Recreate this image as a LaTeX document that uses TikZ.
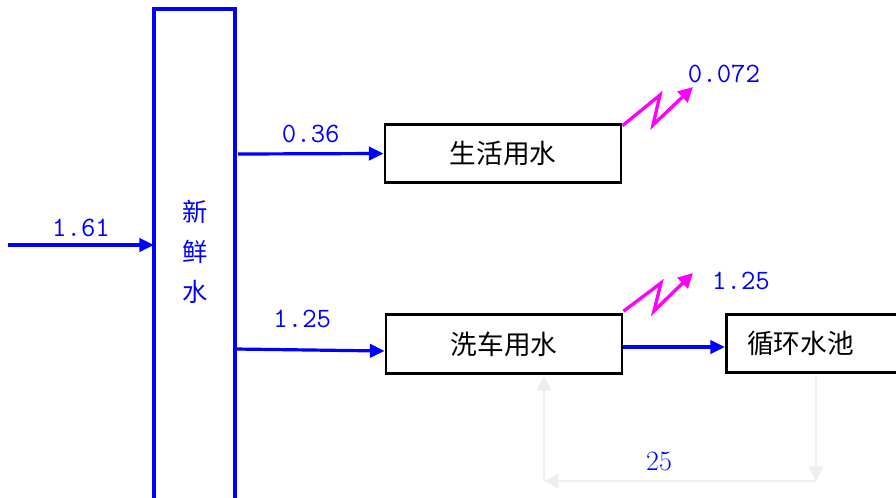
\documentclass[tikz,border=0pt]{standalone}
\usepackage{fontspec}
\newfontfamily\cjk{Noto Sans CJK SC}
\usetikzlibrary{arrows.meta}
\definecolor{fblue}{RGB}{0,0,255}
\definecolor{mag}{RGB}{255,0,255}
\definecolor{lgray}{RGB}{238,238,238}
\begin{document}
\begin{tikzpicture}[x=0.75pt,y=-0.75pt,
  box/.style={draw=black,line width=2.2pt,minimum width=177pt,minimum height=44pt,inner sep=0pt,font=\cjk\fontsize{20}{22}\selectfont},
  flow/.style={draw=fblue,line width=2.4pt,-{Triangle[length=11pt,width=10pt]}},
  num/.style={text=fblue,font=\ttfamily\fontsize{21}{22}\selectfont,inner sep=0pt},
  zig/.style={draw=mag,line width=2.5pt,-{Triangle[length=11pt,width=11pt]}},
  ret/.style={draw=lgray,line width=2pt,-{Triangle[length=11pt,width=11pt]}}]
\useasboundingbox (0,0) rectangle (896,497);
% fresh water column
\draw[fblue,line width=2.5pt] (154,510) -- (154,9) -- (235,9) -- (235,510);
\node[text=fblue,font=\cjk\fontsize{19}{20}\selectfont,align=center,inner sep=0pt] (fw) at (195,252) {新\\[10pt]鲜\\[10pt]水};
% boxes
\node[box] (life) at (503,153.5) {生活用水};
\node[box] (wash) at (504,344) {洗车用水};
\node[box,minimum width=133pt,anchor=west] (pool) at (725,343.5) {\hspace*{-22pt}循环水池};
% coordinates
\coordinate (in0) at (8,245);
\coordinate (in1) at (154,245);
\coordinate (o1) at (238,154);
\coordinate (o2) at (235,349);
% flows
\draw[flow] (in0) -- (in1) node[num,pos=0.5,above=5pt] (n1) {1.61};
\draw[flow] (o1) -- (life.west) node[num,pos=0.5,above=7pt] (n2) {0.36};
\draw[flow] (o2) -- (wash.west |- 0,351) node[num,pos=0.45,above=15pt] (n3) {1.25};
\draw[flow] (wash.east |- 0,347) -- (pool.west |- 0,347);
% losses
\coordinate (z1a) at (660,95);
\coordinate (z1b) at (653,125);
\coordinate (z1t) at (693,87);
\draw[zig] (life.north east) ++(0,3) -- (z1a) -- (z1b) -- (z1t);
\node[num] (l1) at (724,74) {0.072};
\coordinate (z2a) at (661,283);
\coordinate (z2b) at (654,311);
\coordinate (z2t) at (693,273);
\draw[zig] (wash.north east) ++(0,-2) -- (z2a) -- (z2b) -- (z2t);
\node[num] (l2) at (741,281) {1.25};
% recirculation
\coordinate (r1) at (816,376);
\coordinate (r2) at (816,481);
\coordinate (r3) at (544,481);
\coordinate (r4) at (544,376);
\draw[ret] (r1) -- (r2);
\draw[ret] (r2) -- (r3);
\draw[ret] (r3) -- (r4);
\node[text=fblue,font=\fontsize{21}{22}\selectfont,inner sep=0pt] (n25) at (659,461) {25};
\end{tikzpicture}
\end{document}
